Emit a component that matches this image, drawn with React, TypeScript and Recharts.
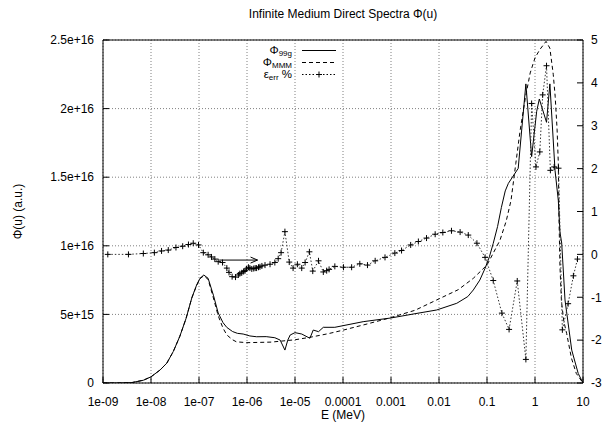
import React from "react";
import { LineChart, Line, XAxis, YAxis, CartesianGrid, Legend, ReferenceLine, Label } from "recharts";

const FONT = '"Liberation Sans", Arial, Helvetica, sans-serif';

// x axis: log10(E / MeV)
const decadeTicks = [-9, -8, -7, -6, -5, -4, -3, -2, -1, 0, 1];
const decadeLabels = ["1e-09", "1e-08", "1e-07", "1e-06", "1e-05", "0.0001", "0.001", "0.01", "0.1", "1", "10"];

// left axis in units of 1e15
const phiTicks = [0, 5, 10, 15, 20, 25];
const phiTickLabels = ["0", "5e+15", "1e+16", "1.5e+16", "2e+16", "2.5e+16"];
const phiMirrorTicks = [5, 10, 15, 20];
const errTicks = [-3, -2, -1, 0, 1, 2, 3, 4, 5];

const phi99gLogE = [-9, -8.7, -8.4, -8.16, -8.0, -7.81, -7.67, -7.535, -7.4, -7.27, -7.15, -7.05, -6.98, -6.9, -6.81, -6.7, -6.6, -6.5, -6.42, -6.3, -6.2, -6.08, -5.94, -5.8, -5.6, -5.42, -5.31, -5.21, -5.15, -5.1, -5.0, -4.86, -4.69, -4.62, -4.51, -4.41, -4.17, -3.58, -3.0, -2.5, -2.05, -1.63, -1.4, -1.285, -1.15, -1.04, -0.95, -0.87, -0.78, -0.7, -0.62, -0.555, -0.35, -0.19, -0.07, 0.035, 0.09, 0.24, 0.31, 0.417, 0.486, 0.52, 0.556, 0.625, 0.765, 0.9, 1.0];
const phi99g = [0, 0.005, 0.03, 0.2, 0.45, 0.95, 1.45, 2.3, 3.4, 4.7, 6.2, 7.14, 7.63, 7.87, 7.63, 6.4, 5.1, 4.4, 4.05, 3.75, 3.62, 3.57, 3.43, 3.37, 3.38, 3.3, 3.13, 2.4, 3.13, 3.5, 3.67, 3.57, 3.26, 3.86, 3.74, 4.06, 4.06, 4.47, 4.74, 5.05, 5.32, 5.81, 6.3, 6.78, 7.5, 8.36, 9.2, 10.18, 11.4, 12.8, 14.0, 14.55, 15.64, 21.8, 16.5, 19.8, 20.7, 19.0, 21.8, 15.5, 13.3, 11.0, 10.2, 6.05, 2.4, 0.7, 0];

const phiMMMLogE = [-9, -8.7, -8.4, -8.16, -8.0, -7.81, -7.67, -7.535, -7.4, -7.27, -7.15, -7.05, -6.98, -6.9, -6.81, -6.7, -6.6, -6.5, -6.42, -6.3, -6.22, -6.0, -5.5, -5.0, -4.69, -4.3, -4.0, -3.5, -3.06, -2.5, -2.05, -1.6, -1.285, -1.0, -0.73, -0.6, -0.5, -0.4, -0.31, -0.2, -0.1, 0.0, 0.1, 0.23, 0.31, 0.38, 0.42, 0.46, 0.486, 0.5, 0.52, 0.55, 0.6, 0.66, 0.76, 0.86, 1.0];
const phiMMM = [0, 0.005, 0.03, 0.2, 0.45, 0.95, 1.45, 2.3, 3.4, 4.7, 6.2, 7.1, 7.6, 7.82, 7.55, 6.2, 4.9, 4.0, 3.5, 3.15, 3.0, 2.94, 2.98, 3.15, 3.33, 3.6, 3.85, 4.3, 4.71, 5.3, 6.05, 6.8, 7.63, 8.6, 10.4, 11.8, 13.3, 16.0, 18.4, 20.8, 22.6, 23.7, 24.3, 24.9, 24.4, 22.5, 20.9, 18.5, 16.0, 12.0, 8.5, 6.0, 4.5, 3.6, 1.8, 0.7, 0];

const errLogE = [-8.9, -8.47, -8.16, -7.93, -7.78, -7.64, -7.48, -7.34, -7.22, -7.12, -7.01, -6.91, -6.81, -6.74, -6.67, -6.6, -6.51, -6.42, -6.375, -6.31, -6.24, -6.18, -6.15, -6.11, -6.07, -6.04, -6.01, -5.97, -5.94, -5.9, -5.86, -5.83, -5.8, -5.76, -5.73, -5.69, -5.625, -5.52, -5.42, -5.35, -5.29, -5.21, -5.12, -5.04, -4.95, -4.86, -4.79, -4.7, -4.63, -4.51, -4.41, -4.34, -4.29, -4.17, -3.99, -3.82, -3.65, -3.49, -3.33, -3.125, -2.92, -2.78, -2.59, -2.43, -2.26, -2.08, -1.92, -1.74, -1.56, -1.39, -1.21, -1.04, -0.87, -0.69, -0.54, -0.37, -0.19, -0.07, 0.02, 0.1, 0.16, 0.24, 0.32, 0.4, 0.49, 0.57, 0.69, 0.8, 0.885];
const errPct = [0.0, 0.0, 0.02, 0.04, 0.08, 0.1, 0.16, 0.19, 0.23, 0.26, 0.22, 0.04, -0.01, -0.06, -0.11, -0.17, -0.19, -0.32, -0.42, -0.52, -0.53, -0.48, -0.45, -0.43, -0.4, -0.38, -0.34, -0.3, -0.32, -0.34, -0.33, -0.32, -0.32, -0.3, -0.29, -0.27, -0.25, -0.23, -0.19, -0.1, 0.04, 0.53, -0.18, -0.32, -0.23, -0.32, -0.19, 0.06, -0.39, -0.15, -0.41, -0.38, -0.35, -0.28, -0.3, -0.3, -0.22, -0.25, -0.15, -0.07, 0.03, 0.09, 0.22, 0.3, 0.38, 0.47, 0.51, 0.55, 0.52, 0.45, 0.26, -0.07, -0.61, -1.37, -1.75, -0.62, -2.45, 3.52, 2.04, 2.39, 3.72, 4.4, 1.96, 2.04, 2.01, -1.76, -1.15, -0.5, -0.11];

// annotation arrow (logE, phi in 1e15)
const arrowFrom = { x: -6.58, y: 8.96 };
const arrowTo = { x: -5.78, y: 8.96 };

const data99g = phi99gLogE.map((x, i) => ({ x, v: phi99g[i] }));
const dataMMM = phiMMMLogE.map((x, i) => ({ x, v: phiMMM[i] }));
const dataErr = errLogE.map((x, i) => ({ x, v: errPct[i] }));

const tickStyle = { fontSize: 12, fill: "#000", fontFamily: FONT };

function PlusDot(props: any) {
  const { cx, cy, index } = props;
  if (cx == null || cy == null) return <g key={index} />;
  return <path key={index} d={`M${cx - 3},${cy}h6M${cx},${cy - 3}v6`} stroke="#000" strokeWidth={1} fill="none" />;
}

function Arrow(props: any) {
  const { x1, y1, x2, y2 } = props;
  return (
    <g>
      <line x1={x1} y1={y1} x2={x2} y2={y2} stroke="#000" strokeWidth={1} />
      <polyline points={`${x2 - 7},${y2 - 3} ${x2},${y2} ${x2 - 7},${y2 + 3}`} stroke="#000" strokeWidth={1} fill="none" />
    </g>
  );
}

const legendRows = [
  { main: "Φ", sub: "99g", tail: "", dash: undefined, plus: false },
  { main: "Φ", sub: "MMM", tail: "", dash: "4 3", plus: false },
  { main: "ε", sub: "err", tail: " %", dash: "1.5 2", plus: true },
];

function LegendBox() {
  return (
    <div style={{ fontFamily: FONT, fontSize: 12, color: "#000" }}>
      {legendRows.map((r, i) => (
        <div key={i} style={{ display: "flex", alignItems: "center", height: 12, overflow: "visible" }}>
          <span style={{ width: 53, textAlign: "right", fontSize: 11.5, lineHeight: "12px", whiteSpace: "nowrap" }}>
            {r.main}
            <span style={{ fontSize: 8, lineHeight: 0, position: "relative", top: 2 }}>{r.sub}</span>
            {r.tail}
          </span>
          <svg width={40} height={11} style={{ marginLeft: 9 }}>
            <line x1={1} y1={5.5} x2={35} y2={5.5} stroke="#000" strokeWidth={1} strokeDasharray={r.dash} />
            {r.plus && <path d="M15,5.5h6M18,2.5v6" stroke="#000" strokeWidth={1} />}
          </svg>
        </div>
      ))}
    </div>
  );
}

function Title(props: any) {
  const vb = props.viewBox || { x: 103, y: 40, width: 480 };
  return (
    <text x={vb.x + vb.width / 2} y={vb.y - 22} textAnchor="middle" fontFamily={FONT} fontSize={12} fill="#000">
      Infinite Medium Direct Spectra Φ(u)
    </text>
  );
}

function XTitle(props: any) {
  const vb = props.viewBox || { x: 103, y: 383, width: 480 };
  return (
    <text x={vb.x + vb.width / 2} y={vb.y + 36} textAnchor="middle" fontFamily={FONT} fontSize={12} fill="#000">
      E (MeV)
    </text>
  );
}

function YTitle(props: any) {
  const vb = props.viewBox || { x: 8, y: 40, height: 343 };
  const cx = vb.x + 14;
  const cy = vb.y + vb.height / 2;
  return (
    <text x={cx} y={cy} transform={`rotate(-90, ${cx}, ${cy})`} textAnchor="middle" fontFamily={FONT} fontSize={12} fill="#000">
      Φ(u) (a.u.)
    </text>
  );
}

export default function App() {
  return (
    <div style={{ position: "absolute", left: 0, top: 0, background: "#fff" }}>
      <LineChart width={607} height={429} margin={{ top: 40, right: 0, bottom: 0, left: 8 }}>
        <CartesianGrid xAxisId="bottom" yAxisId="left" stroke="#808080" strokeDasharray="1 2" />
        <XAxis
          xAxisId="bottom"
          dataKey="x"
          type="number"
          domain={[-9, 1]}
          ticks={decadeTicks}
          tickFormatter={(v: number) => decadeLabels[decadeTicks.indexOf(v)]}
          tick={tickStyle}
          tickSize={-6}
          tickMargin={20}
          height={46}
          axisLine={{ stroke: "#000" }}
          tickLine={{ stroke: "#000" }}
          allowDataOverflow
        >
          <Label content={<XTitle />} />
        </XAxis>
        <XAxis
          xAxisId="top"
          orientation="top"
          mirror
          dataKey="x"
          type="number"
          domain={[-9, 1]}
          ticks={decadeTicks}
          tick={false}
          tickSize={6}
          height={1}
          axisLine={{ stroke: "#000" }}
          tickLine={{ stroke: "#000" }}
        >
          <Label content={<Title />} />
        </XAxis>
        <YAxis
          yAxisId="left"
          type="number"
          domain={[0, 25]}
          ticks={phiTicks}
          tickFormatter={(v: number) => phiTickLabels[phiTicks.indexOf(v)]}
          tick={tickStyle}
          tickSize={-6}
          tickMargin={15}
          width={95}
          axisLine={{ stroke: "#000" }}
          tickLine={{ stroke: "#000" }}
          allowDataOverflow
        >
          <Label content={<YTitle />} />
        </YAxis>
        <YAxis
          yAxisId="leftMirror"
          orientation="right"
          mirror
          type="number"
          domain={[0, 25]}
          ticks={phiMirrorTicks}
          tick={false}
          tickSize={6}
          width={1}
          axisLine={false}
          tickLine={{ stroke: "#000" }}
        />
        <YAxis
          yAxisId="right"
          orientation="right"
          type="number"
          domain={[-3, 5]}
          ticks={errTicks}
          tick={tickStyle}
          tickSize={-6}
          tickMargin={14}
          width={24}
          axisLine={{ stroke: "#000" }}
          tickLine={{ stroke: "#000" }}
          allowDataOverflow
        />
        <Legend
          layout="vertical"
          align="center"
          verticalAlign="middle"
          content={() => <LegendBox />}
          wrapperStyle={{ left: 239, top: 44, width: 110 }}
        />
        <ReferenceLine
          xAxisId="bottom"
          yAxisId="left"
          segment={[arrowFrom, arrowTo]}
          shape={(p: any) => <Arrow {...p} />}
        />
        <Line
          xAxisId="bottom"
          yAxisId="left"
          data={data99g}
          dataKey="v"
          type="linear"
          stroke="#000"
          strokeWidth={1}
          dot={false}
          isAnimationActive={false}
        />
        <Line
          xAxisId="bottom"
          yAxisId="left"
          data={dataMMM}
          dataKey="v"
          type="linear"
          stroke="#000"
          strokeWidth={1}
          strokeDasharray="4 3"
          dot={false}
          isAnimationActive={false}
        />
        <Line
          xAxisId="bottom"
          yAxisId="right"
          data={dataErr}
          dataKey="v"
          type="linear"
          stroke="#333"
          strokeWidth={1}
          strokeDasharray="1.5 2"
          dot={(p: any) => <PlusDot {...p} />}
          isAnimationActive={false}
        />
      </LineChart>
    </div>
  );
}
